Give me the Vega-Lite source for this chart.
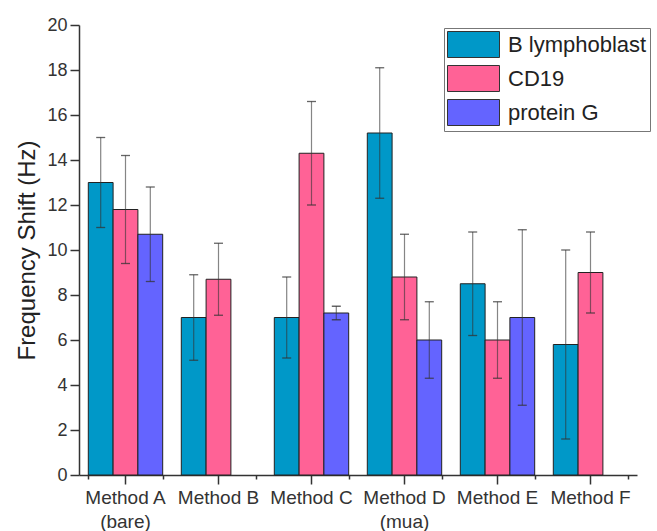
{
  "$schema": "https://vega.github.io/schema/vega-lite/v6.json",
  "width": 558,
  "height": 450,
  "autosize": "none",
  "padding": {"left": 79, "top": 25, "right": 20, "bottom": 56},
  "background": "white",
  "config": {
    "view": {"stroke": null},
    "font": "Liberation Sans",
    "axis": {
      "domainColor": "#333",
      "domainWidth": 1.5,
      "tickColor": "#333",
      "tickWidth": 1.5,
      "labelColor": "#333",
      "titleColor": "#222",
      "labelFont": "Liberation Sans",
      "titleFont": "Liberation Sans",
      "titleFontWeight": "normal",
      "grid": false
    },
    "legend": {
      "orient": "none",
      "legendX": 365,
      "legendY": 3,
      "strokeColor": "#777",
      "fillColor": "white",
      "padding": 3,
      "symbolType": "M-1,-1H3V1H-1Z",
      "symbolSize": 676,
      "symbolStrokeColor": "#333",
      "symbolStrokeWidth": 1,
      "symbolOpacity": 1,
      "labelFont": "Liberation Sans",
      "labelFontSize": 22,
      "labelColor": "#222",
      "labelOffset": 34,
      "labelLimit": 300,
      "rowPadding": 3
    }
  },
  "data": {
    "values": [
      {"method": "Method A", "series": "B lymphoblast", "value": 13.0, "lo": 11.0, "hi": 15.0},
      {"method": "Method A", "series": "CD19", "value": 11.8, "lo": 9.4, "hi": 14.2},
      {"method": "Method A", "series": "protein G", "value": 10.7, "lo": 8.6, "hi": 12.8},
      {"method": "Method B", "series": "B lymphoblast", "value": 7.0, "lo": 5.1, "hi": 8.9},
      {"method": "Method B", "series": "CD19", "value": 8.7, "lo": 7.1, "hi": 10.3},
      {"method": "Method C", "series": "B lymphoblast", "value": 7.0, "lo": 5.2, "hi": 8.8},
      {"method": "Method C", "series": "CD19", "value": 14.3, "lo": 12.0, "hi": 16.6},
      {"method": "Method C", "series": "protein G", "value": 7.2, "lo": 6.9, "hi": 7.5},
      {"method": "Method D", "series": "B lymphoblast", "value": 15.2, "lo": 12.3, "hi": 18.1},
      {"method": "Method D", "series": "CD19", "value": 8.8, "lo": 6.9, "hi": 10.7},
      {"method": "Method D", "series": "protein G", "value": 6.0, "lo": 4.3, "hi": 7.7},
      {"method": "Method E", "series": "B lymphoblast", "value": 8.5, "lo": 6.2, "hi": 10.8},
      {"method": "Method E", "series": "CD19", "value": 6.0, "lo": 4.3, "hi": 7.7},
      {"method": "Method E", "series": "protein G", "value": 7.0, "lo": 3.1, "hi": 10.9},
      {"method": "Method F", "series": "B lymphoblast", "value": 5.8, "lo": 1.6, "hi": 10.0},
      {"method": "Method F", "series": "CD19", "value": 9.0, "lo": 7.2, "hi": 10.8}
    ]
  },
  "layer": [
    {
      "mark": {"type": "bar", "stroke": "#222", "strokeWidth": 1},
      "encoding": {
        "x": {
          "field": "method",
          "type": "nominal",
          "sort": null,
          "title": null,
          "scale": {"paddingInner": 0.2, "paddingOuter": 0.1},
          "axis": {
            "orient": "bottom",
            "labelAngle": 0,
            "labelFontSize": 19,
            "labelPadding": 4,
            "labelLineHeight": 24,
            "tickSize": 9,
            "labelExpr": "datum.value === 'Method A' ? ['Method A', '(bare)'] : datum.value === 'Method D' ? ['Method D', '(mua)'] : datum.value"
          }
        },
        "xOffset": {
          "field": "series",
          "type": "nominal",
          "scale": {"domain": ["B lymphoblast", "CD19", "protein G"], "paddingInner": 0, "paddingOuter": 0}
        },
        "y": {
          "field": "value",
          "type": "quantitative",
          "title": "Frequency Shift (Hz)",
          "scale": {"domain": [0, 20], "nice": false},
          "axis": {
            "values": [0, 1, 2, 3, 4, 5, 6, 7, 8, 9, 10, 11, 12, 13, 14, 15, 16, 17, 18, 19, 20],
            "labelExpr": "datum.value % 2 === 0 ? datum.label : ''",
            "tickSize": {"condition": {"test": "datum.value % 2 === 0", "value": 9}, "value": 5},
            "labelFontSize": 18,
            "labelPadding": 3,
            "titleFontSize": 24,
            "titlePadding": 7
          }
        },
        "color": {
          "field": "series",
          "type": "nominal",
          "title": null,
          "scale": {"domain": ["B lymphoblast", "CD19", "protein G"], "range": ["#0098C8", "#FF6296", "#6464FF"]}
        }
      }
    },
    {
      "mark": {"type": "rule", "color": "#333", "opacity": 0.6, "strokeWidth": 1.2},
      "encoding": {
        "x": {"field": "method", "type": "nominal", "sort": null, "title": null, "axis": null},
        "xOffset": {"field": "series", "type": "nominal"},
        "y": {"field": "lo", "type": "quantitative", "title": "Frequency Shift (Hz)"},
        "y2": {"field": "hi"}
      }
    },
    {
      "transform": [{"fold": ["lo", "hi"], "as": ["end", "ev"]}],
      "mark": {"type": "tick", "color": "#333", "opacity": 0.75, "size": 9, "thickness": 1.3},
      "encoding": {
        "x": {
          "field": "method",
          "type": "nominal",
          "sort": null,
          "title": null,
          "axis": {"orient": "bottom", "tickBand": "extent", "labels": false, "domain": false, "tickSize": 4, "title": null}
        },
        "xOffset": {"field": "series", "type": "nominal"},
        "y": {"field": "ev", "type": "quantitative", "title": "Frequency Shift (Hz)"}
      }
    }
  ],
  "resolve": {"axis": {"x": "independent"}}
}
